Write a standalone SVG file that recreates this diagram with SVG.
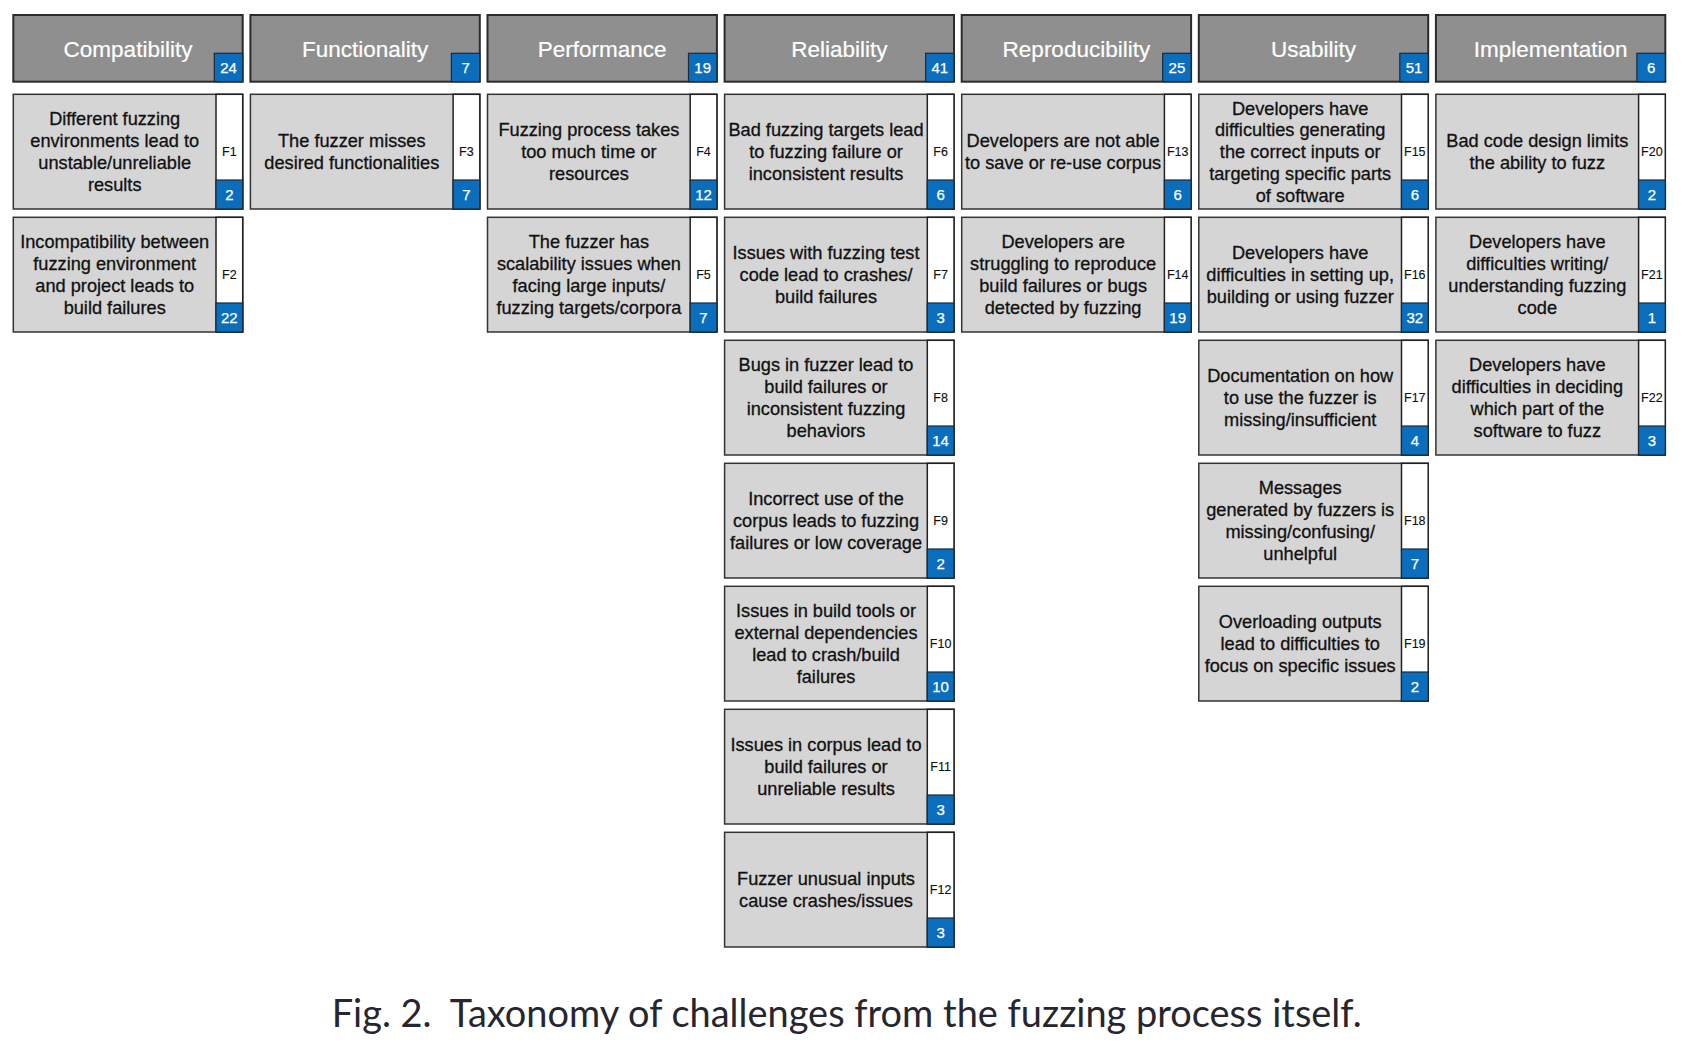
<svg xmlns="http://www.w3.org/2000/svg" width="1706" height="1058" viewBox="0 0 1706 1058">
  <style>
    .head { fill: #8f8f8f; stroke: #2b2b2b; stroke-width: 2; }
    .hbadge { fill: #0a6ebd; stroke: #1d2a36; stroke-width: 1.2; }
    .htitle { font-family: "Liberation Sans", Arial, sans-serif; font-size: 22.5px; fill: #ffffff; stroke: #ffffff; stroke-width: 0.2; text-anchor: middle; }
    .num { font-family: "Liberation Sans", Arial, sans-serif; font-size: 15px; fill: #ffffff; stroke: #ffffff; stroke-width: 0.25; text-anchor: middle; }
    .card { fill: #d5d5d5; stroke: #333333; stroke-width: 1.5; }
    .strip { fill: #ffffff; stroke: #222222; stroke-width: 1.5; }
    .badge { fill: #0a6ebd; stroke: #1d2a36; stroke-width: 1.2; }
    .desc { font-family: "Liberation Sans", Arial, sans-serif; font-size: 18.2px; fill: #111111; stroke: #111111; stroke-width: 0.3; text-anchor: middle; }
    .fid { font-family: "Liberation Sans", Arial, sans-serif; font-size: 12.5px; fill: #111111; stroke: #111111; stroke-width: 0.15; text-anchor: middle; }
    .caption { font-family: Lato, "Open Sans", sans-serif; font-size: 38px; fill: #26262e; }
  </style>

  <!-- category headers -->
  <g id="cat-compatibility" transform="translate(13.3,15)">
    <rect class="head" x="0" y="0" width="229.4" height="66.7"/>
    <rect class="hbadge" x="201" y="38.3" width="28.4" height="28.4"/>
    <text class="htitle" x="114.7" y="42">Compatibility</text>
    <text class="num" x="215.2" y="58.3">24</text>
  </g>
  <g id="cat-functionality" transform="translate(250.4,15)">
    <rect class="head" x="0" y="0" width="229.4" height="66.7"/>
    <rect class="hbadge" x="201" y="38.3" width="28.4" height="28.4"/>
    <text class="htitle" x="114.7" y="42">Functionality</text>
    <text class="num" x="215.2" y="58.3">7</text>
  </g>
  <g id="cat-performance" transform="translate(487.5,15)">
    <rect class="head" x="0" y="0" width="229.4" height="66.7"/>
    <rect class="hbadge" x="201" y="38.3" width="28.4" height="28.4"/>
    <text class="htitle" x="114.7" y="42">Performance</text>
    <text class="num" x="215.2" y="58.3">19</text>
  </g>
  <g id="cat-reliability" transform="translate(724.6,15)">
    <rect class="head" x="0" y="0" width="229.4" height="66.7"/>
    <rect class="hbadge" x="201" y="38.3" width="28.4" height="28.4"/>
    <text class="htitle" x="114.7" y="42">Reliability</text>
    <text class="num" x="215.2" y="58.3">41</text>
  </g>
  <g id="cat-reproducibility" transform="translate(961.7,15)">
    <rect class="head" x="0" y="0" width="229.4" height="66.7"/>
    <rect class="hbadge" x="201" y="38.3" width="28.4" height="28.4"/>
    <text class="htitle" x="114.7" y="42">Reproducibility</text>
    <text class="num" x="215.2" y="58.3">25</text>
  </g>
  <g id="cat-usability" transform="translate(1198.8,15)">
    <rect class="head" x="0" y="0" width="229.4" height="66.7"/>
    <rect class="hbadge" x="201" y="38.3" width="28.4" height="28.4"/>
    <text class="htitle" x="114.7" y="42">Usability</text>
    <text class="num" x="215.2" y="58.3">51</text>
  </g>
  <g id="cat-implementation" transform="translate(1435.9,15)">
    <rect class="head" x="0" y="0" width="229.4" height="66.7"/>
    <rect class="hbadge" x="201" y="38.3" width="28.4" height="28.4"/>
    <text class="htitle" x="114.7" y="42">Implementation</text>
    <text class="num" x="215.2" y="58.3">6</text>
  </g>

  <!-- challenge cards: text centred at x=101.4, card middle at y=57.35, line step 21.8 -->
  <g id="F1" transform="translate(13.3,94.3)">
    <rect class="card" x="0" y="0" width="229.4" height="114.7"/>
    <rect class="strip" x="202.7" y="0" width="26.7" height="114.7"/>
    <rect class="badge" x="202.7" y="85.7" width="26.7" height="29"/>
    <text class="desc"><tspan x="101.4" y="31.2">Different fuzzing</tspan><tspan x="101.4" y="53">environments lead to</tspan><tspan x="101.4" y="74.8">unstable/unreliable</tspan><tspan x="101.4" y="96.6">results</tspan></text>
    <text class="fid" x="216" y="61.8">F1</text>
    <text class="num" x="216" y="105.7">2</text>
  </g>
  <g id="F2" transform="translate(13.3,217.3)">
    <rect class="card" x="0" y="0" width="229.4" height="114.7"/>
    <rect class="strip" x="202.7" y="0" width="26.7" height="114.7"/>
    <rect class="badge" x="202.7" y="85.7" width="26.7" height="29"/>
    <text class="desc"><tspan x="101.4" y="31.2">Incompatibility between</tspan><tspan x="101.4" y="53">fuzzing environment</tspan><tspan x="101.4" y="74.8">and project leads to</tspan><tspan x="101.4" y="96.6">build failures</tspan></text>
    <text class="fid" x="216" y="61.8">F2</text>
    <text class="num" x="216" y="105.7">22</text>
  </g>
  <g id="F3" transform="translate(250.4,94.3)">
    <rect class="card" x="0" y="0" width="229.4" height="114.7"/>
    <rect class="strip" x="202.7" y="0" width="26.7" height="114.7"/>
    <rect class="badge" x="202.7" y="85.7" width="26.7" height="29"/>
    <text class="desc"><tspan x="101.4" y="53">The fuzzer misses</tspan><tspan x="101.4" y="74.8">desired functionalities</tspan></text>
    <text class="fid" x="216" y="61.8">F3</text>
    <text class="num" x="216" y="105.7">7</text>
  </g>
  <g id="F4" transform="translate(487.5,94.3)">
    <rect class="card" x="0" y="0" width="229.4" height="114.7"/>
    <rect class="strip" x="202.7" y="0" width="26.7" height="114.7"/>
    <rect class="badge" x="202.7" y="85.7" width="26.7" height="29"/>
    <text class="desc"><tspan x="101.4" y="42.1">Fuzzing process takes</tspan><tspan x="101.4" y="63.9">too much time or</tspan><tspan x="101.4" y="85.7">resources</tspan></text>
    <text class="fid" x="216" y="61.8">F4</text>
    <text class="num" x="216" y="105.7">12</text>
  </g>
  <g id="F5" transform="translate(487.5,217.3)">
    <rect class="card" x="0" y="0" width="229.4" height="114.7"/>
    <rect class="strip" x="202.7" y="0" width="26.7" height="114.7"/>
    <rect class="badge" x="202.7" y="85.7" width="26.7" height="29"/>
    <text class="desc"><tspan x="101.4" y="31.2">The fuzzer has</tspan><tspan x="101.4" y="53">scalability issues when</tspan><tspan x="101.4" y="74.8">facing large inputs/</tspan><tspan x="101.4" y="96.6">fuzzing targets/corpora</tspan></text>
    <text class="fid" x="216" y="61.8">F5</text>
    <text class="num" x="216" y="105.7">7</text>
  </g>
  <g id="F6" transform="translate(724.6,94.3)">
    <rect class="card" x="0" y="0" width="229.4" height="114.7"/>
    <rect class="strip" x="202.7" y="0" width="26.7" height="114.7"/>
    <rect class="badge" x="202.7" y="85.7" width="26.7" height="29"/>
    <text class="desc"><tspan x="101.4" y="42.1">Bad fuzzing targets lead</tspan><tspan x="101.4" y="63.9">to fuzzing failure or</tspan><tspan x="101.4" y="85.7">inconsistent results</tspan></text>
    <text class="fid" x="216" y="61.8">F6</text>
    <text class="num" x="216" y="105.7">6</text>
  </g>
  <g id="F7" transform="translate(724.6,217.3)">
    <rect class="card" x="0" y="0" width="229.4" height="114.7"/>
    <rect class="strip" x="202.7" y="0" width="26.7" height="114.7"/>
    <rect class="badge" x="202.7" y="85.7" width="26.7" height="29"/>
    <text class="desc"><tspan x="101.4" y="42.1">Issues with fuzzing test</tspan><tspan x="101.4" y="63.9">code lead to crashes/</tspan><tspan x="101.4" y="85.7">build failures</tspan></text>
    <text class="fid" x="216" y="61.8">F7</text>
    <text class="num" x="216" y="105.7">3</text>
  </g>
  <g id="F8" transform="translate(724.6,340.3)">
    <rect class="card" x="0" y="0" width="229.4" height="114.7"/>
    <rect class="strip" x="202.7" y="0" width="26.7" height="114.7"/>
    <rect class="badge" x="202.7" y="85.7" width="26.7" height="29"/>
    <text class="desc"><tspan x="101.4" y="31.2">Bugs in fuzzer lead to</tspan><tspan x="101.4" y="53">build failures or</tspan><tspan x="101.4" y="74.8">inconsistent fuzzing</tspan><tspan x="101.4" y="96.6">behaviors</tspan></text>
    <text class="fid" x="216" y="61.8">F8</text>
    <text class="num" x="216" y="105.7">14</text>
  </g>
  <g id="F9" transform="translate(724.6,463.3)">
    <rect class="card" x="0" y="0" width="229.4" height="114.7"/>
    <rect class="strip" x="202.7" y="0" width="26.7" height="114.7"/>
    <rect class="badge" x="202.7" y="85.7" width="26.7" height="29"/>
    <text class="desc"><tspan x="101.4" y="42.1">Incorrect use of the</tspan><tspan x="101.4" y="63.9">corpus leads to fuzzing</tspan><tspan x="101.4" y="85.7">failures or low coverage</tspan></text>
    <text class="fid" x="216" y="61.8">F9</text>
    <text class="num" x="216" y="105.7">2</text>
  </g>
  <g id="F10" transform="translate(724.6,586.3)">
    <rect class="card" x="0" y="0" width="229.4" height="114.7"/>
    <rect class="strip" x="202.7" y="0" width="26.7" height="114.7"/>
    <rect class="badge" x="202.7" y="85.7" width="26.7" height="29"/>
    <text class="desc"><tspan x="101.4" y="31.2">Issues in build tools or</tspan><tspan x="101.4" y="53">external dependencies</tspan><tspan x="101.4" y="74.8">lead to crash/build</tspan><tspan x="101.4" y="96.6">failures</tspan></text>
    <text class="fid" x="216" y="61.8">F10</text>
    <text class="num" x="216" y="105.7">10</text>
  </g>
  <g id="F11" transform="translate(724.6,709.3)">
    <rect class="card" x="0" y="0" width="229.4" height="114.7"/>
    <rect class="strip" x="202.7" y="0" width="26.7" height="114.7"/>
    <rect class="badge" x="202.7" y="85.7" width="26.7" height="29"/>
    <text class="desc"><tspan x="101.4" y="42.1">Issues in corpus lead to</tspan><tspan x="101.4" y="63.9">build failures or</tspan><tspan x="101.4" y="85.7">unreliable results</tspan></text>
    <text class="fid" x="216" y="61.8">F11</text>
    <text class="num" x="216" y="105.7">3</text>
  </g>
  <g id="F12" transform="translate(724.6,832.3)">
    <rect class="card" x="0" y="0" width="229.4" height="114.7"/>
    <rect class="strip" x="202.7" y="0" width="26.7" height="114.7"/>
    <rect class="badge" x="202.7" y="85.7" width="26.7" height="29"/>
    <text class="desc"><tspan x="101.4" y="53">Fuzzer unusual inputs</tspan><tspan x="101.4" y="74.8">cause crashes/issues</tspan></text>
    <text class="fid" x="216" y="61.8">F12</text>
    <text class="num" x="216" y="105.7">3</text>
  </g>
  <g id="F13" transform="translate(961.7,94.3)">
    <rect class="card" x="0" y="0" width="229.4" height="114.7"/>
    <rect class="strip" x="202.7" y="0" width="26.7" height="114.7"/>
    <rect class="badge" x="202.7" y="85.7" width="26.7" height="29"/>
    <text class="desc"><tspan x="101.4" y="53">Developers are not able</tspan><tspan x="101.4" y="74.8">to save or re-use corpus</tspan></text>
    <text class="fid" x="216" y="61.8">F13</text>
    <text class="num" x="216" y="105.7">6</text>
  </g>
  <g id="F14" transform="translate(961.7,217.3)">
    <rect class="card" x="0" y="0" width="229.4" height="114.7"/>
    <rect class="strip" x="202.7" y="0" width="26.7" height="114.7"/>
    <rect class="badge" x="202.7" y="85.7" width="26.7" height="29"/>
    <text class="desc"><tspan x="101.4" y="31.2">Developers are</tspan><tspan x="101.4" y="53">struggling to reproduce</tspan><tspan x="101.4" y="74.8">build failures or bugs</tspan><tspan x="101.4" y="96.6">detected by fuzzing</tspan></text>
    <text class="fid" x="216" y="61.8">F14</text>
    <text class="num" x="216" y="105.7">19</text>
  </g>
  <g id="F15" transform="translate(1198.8,94.3)">
    <rect class="card" x="0" y="0" width="229.4" height="114.7"/>
    <rect class="strip" x="202.7" y="0" width="26.7" height="114.7"/>
    <rect class="badge" x="202.7" y="85.7" width="26.7" height="29"/>
    <text class="desc"><tspan x="101.4" y="20.3">Developers have</tspan><tspan x="101.4" y="42.1">difficulties generating</tspan><tspan x="101.4" y="63.9">the correct inputs or</tspan><tspan x="101.4" y="85.7">targeting specific parts</tspan><tspan x="101.4" y="107.5">of software</tspan></text>
    <text class="fid" x="216" y="61.8">F15</text>
    <text class="num" x="216" y="105.7">6</text>
  </g>
  <g id="F16" transform="translate(1198.8,217.3)">
    <rect class="card" x="0" y="0" width="229.4" height="114.7"/>
    <rect class="strip" x="202.7" y="0" width="26.7" height="114.7"/>
    <rect class="badge" x="202.7" y="85.7" width="26.7" height="29"/>
    <text class="desc"><tspan x="101.4" y="42.1">Developers have</tspan><tspan x="101.4" y="63.9">difficulties in setting up,</tspan><tspan x="101.4" y="85.7">building or using fuzzer</tspan></text>
    <text class="fid" x="216" y="61.8">F16</text>
    <text class="num" x="216" y="105.7">32</text>
  </g>
  <g id="F17" transform="translate(1198.8,340.3)">
    <rect class="card" x="0" y="0" width="229.4" height="114.7"/>
    <rect class="strip" x="202.7" y="0" width="26.7" height="114.7"/>
    <rect class="badge" x="202.7" y="85.7" width="26.7" height="29"/>
    <text class="desc"><tspan x="101.4" y="42.1">Documentation on how</tspan><tspan x="101.4" y="63.9">to use the fuzzer is</tspan><tspan x="101.4" y="85.7">missing/insufficient</tspan></text>
    <text class="fid" x="216" y="61.8">F17</text>
    <text class="num" x="216" y="105.7">4</text>
  </g>
  <g id="F18" transform="translate(1198.8,463.3)">
    <rect class="card" x="0" y="0" width="229.4" height="114.7"/>
    <rect class="strip" x="202.7" y="0" width="26.7" height="114.7"/>
    <rect class="badge" x="202.7" y="85.7" width="26.7" height="29"/>
    <text class="desc"><tspan x="101.4" y="31.2">Messages</tspan><tspan x="101.4" y="53">generated by fuzzers is</tspan><tspan x="101.4" y="74.8">missing/confusing/</tspan><tspan x="101.4" y="96.6">unhelpful</tspan></text>
    <text class="fid" x="216" y="61.8">F18</text>
    <text class="num" x="216" y="105.7">7</text>
  </g>
  <g id="F19" transform="translate(1198.8,586.3)">
    <rect class="card" x="0" y="0" width="229.4" height="114.7"/>
    <rect class="strip" x="202.7" y="0" width="26.7" height="114.7"/>
    <rect class="badge" x="202.7" y="85.7" width="26.7" height="29"/>
    <text class="desc"><tspan x="101.4" y="42.1">Overloading outputs</tspan><tspan x="101.4" y="63.9">lead to difficulties to</tspan><tspan x="101.4" y="85.7">focus on specific issues</tspan></text>
    <text class="fid" x="216" y="61.8">F19</text>
    <text class="num" x="216" y="105.7">2</text>
  </g>
  <g id="F20" transform="translate(1435.9,94.3)">
    <rect class="card" x="0" y="0" width="229.4" height="114.7"/>
    <rect class="strip" x="202.7" y="0" width="26.7" height="114.7"/>
    <rect class="badge" x="202.7" y="85.7" width="26.7" height="29"/>
    <text class="desc"><tspan x="101.4" y="53">Bad code design limits</tspan><tspan x="101.4" y="74.8">the ability to fuzz</tspan></text>
    <text class="fid" x="216" y="61.8">F20</text>
    <text class="num" x="216" y="105.7">2</text>
  </g>
  <g id="F21" transform="translate(1435.9,217.3)">
    <rect class="card" x="0" y="0" width="229.4" height="114.7"/>
    <rect class="strip" x="202.7" y="0" width="26.7" height="114.7"/>
    <rect class="badge" x="202.7" y="85.7" width="26.7" height="29"/>
    <text class="desc"><tspan x="101.4" y="31.2">Developers have</tspan><tspan x="101.4" y="53">difficulties writing/</tspan><tspan x="101.4" y="74.8">understanding fuzzing</tspan><tspan x="101.4" y="96.6">code</tspan></text>
    <text class="fid" x="216" y="61.8">F21</text>
    <text class="num" x="216" y="105.7">1</text>
  </g>
  <g id="F22" transform="translate(1435.9,340.3)">
    <rect class="card" x="0" y="0" width="229.4" height="114.7"/>
    <rect class="strip" x="202.7" y="0" width="26.7" height="114.7"/>
    <rect class="badge" x="202.7" y="85.7" width="26.7" height="29"/>
    <text class="desc"><tspan x="101.4" y="31.2">Developers have</tspan><tspan x="101.4" y="53">difficulties in deciding</tspan><tspan x="101.4" y="74.8">which part of the</tspan><tspan x="101.4" y="96.6">software to fuzz</tspan></text>
    <text class="fid" x="216" y="61.8">F22</text>
    <text class="num" x="216" y="105.7">3</text>
  </g>

  <g id="caption">
    <text class="caption" x="331.7" y="1026.7" textLength="1030" lengthAdjust="spacingAndGlyphs" xml:space="preserve">Fig. 2.  Taxonomy of challenges from the fuzzing process itself.</text>
  </g>
</svg>
